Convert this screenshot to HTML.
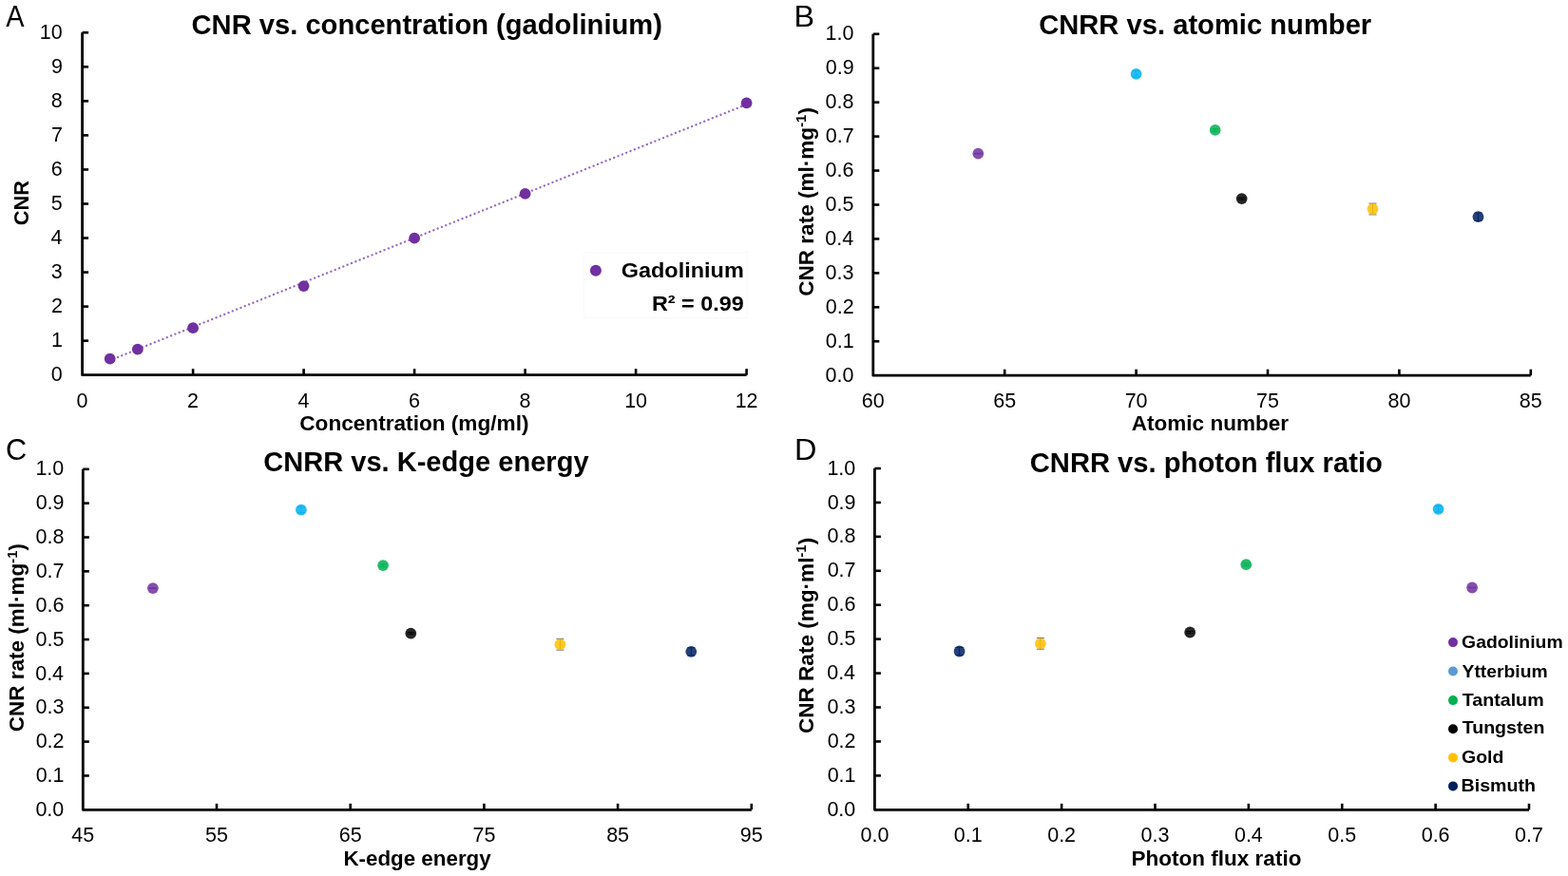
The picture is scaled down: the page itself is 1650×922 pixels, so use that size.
<!DOCTYPE html>
<html><head><meta charset="utf-8"><title>CNR figure</title>
<style>
html,body{margin:0;padding:0;background:#fff;}
body{width:1650px;height:922px;overflow:hidden;}
svg{display:block;}
text{font-family:"Liberation Sans",Arial,sans-serif;fill:#000;}
</style></head><body>
<svg width="1650" height="922" viewBox="0 0 1650 922">
<rect width="1650" height="922" fill="#fff"/>
<path d="M86.60,34.30 L86.60,394.70 L785.60,394.70" fill="none" stroke="#000" stroke-width="2.8" stroke-linejoin="round"/>
<text x="86.60" y="429.00" text-anchor="middle" style="font-size:21.5px;">0</text>
<line x1="203.10" y1="394.70" x2="203.10" y2="388.20" stroke="#000" stroke-width="2.6"/>
<text x="203.10" y="429.00" text-anchor="middle" style="font-size:21.5px;">2</text>
<line x1="319.60" y1="394.70" x2="319.60" y2="388.20" stroke="#000" stroke-width="2.6"/>
<text x="319.60" y="429.00" text-anchor="middle" style="font-size:21.5px;">4</text>
<line x1="436.10" y1="394.70" x2="436.10" y2="388.20" stroke="#000" stroke-width="2.6"/>
<text x="436.10" y="429.00" text-anchor="middle" style="font-size:21.5px;">6</text>
<line x1="552.60" y1="394.70" x2="552.60" y2="388.20" stroke="#000" stroke-width="2.6"/>
<text x="552.60" y="429.00" text-anchor="middle" style="font-size:21.5px;">8</text>
<line x1="669.10" y1="394.70" x2="669.10" y2="388.20" stroke="#000" stroke-width="2.6"/>
<text x="669.10" y="429.00" text-anchor="middle" style="font-size:21.5px;">10</text>
<line x1="785.60" y1="394.70" x2="785.60" y2="388.20" stroke="#000" stroke-width="2.6"/>
<text x="785.60" y="429.00" text-anchor="middle" style="font-size:21.5px;">12</text>
<text x="65.73" y="401.30" text-anchor="end" style="font-size:21.5px;">0</text>
<line x1="86.60" y1="358.66" x2="93.10" y2="358.66" stroke="#000" stroke-width="2.6"/>
<text x="65.94" y="365.26" text-anchor="end" style="font-size:21.5px;">1</text>
<line x1="86.60" y1="322.62" x2="93.10" y2="322.62" stroke="#000" stroke-width="2.6"/>
<text x="65.94" y="329.22" text-anchor="end" style="font-size:21.5px;">2</text>
<line x1="86.60" y1="286.58" x2="93.10" y2="286.58" stroke="#000" stroke-width="2.6"/>
<text x="65.84" y="293.18" text-anchor="end" style="font-size:21.5px;">3</text>
<line x1="86.60" y1="250.54" x2="93.10" y2="250.54" stroke="#000" stroke-width="2.6"/>
<text x="65.51" y="257.14" text-anchor="end" style="font-size:21.5px;">4</text>
<line x1="86.60" y1="214.50" x2="93.10" y2="214.50" stroke="#000" stroke-width="2.6"/>
<text x="65.84" y="221.10" text-anchor="end" style="font-size:21.5px;">5</text>
<line x1="86.60" y1="178.46" x2="93.10" y2="178.46" stroke="#000" stroke-width="2.6"/>
<text x="65.84" y="185.06" text-anchor="end" style="font-size:21.5px;">6</text>
<line x1="86.60" y1="142.42" x2="93.10" y2="142.42" stroke="#000" stroke-width="2.6"/>
<text x="65.94" y="149.02" text-anchor="end" style="font-size:21.5px;">7</text>
<line x1="86.60" y1="106.38" x2="93.10" y2="106.38" stroke="#000" stroke-width="2.6"/>
<text x="65.84" y="112.98" text-anchor="end" style="font-size:21.5px;">8</text>
<line x1="86.60" y1="70.34" x2="93.10" y2="70.34" stroke="#000" stroke-width="2.6"/>
<text x="65.94" y="76.94" text-anchor="end" style="font-size:21.5px;">9</text>
<line x1="86.60" y1="34.30" x2="93.10" y2="34.30" stroke="#000" stroke-width="2.6"/>
<text x="65.75" y="40.90" text-anchor="end" style="font-size:21.5px;">10</text>
<path d="M918.80,35.80 L918.80,395.20 L1610.80,395.20" fill="none" stroke="#000" stroke-width="2.8" stroke-linejoin="round"/>
<text x="918.80" y="429.00" text-anchor="middle" style="font-size:21.5px;">60</text>
<line x1="1057.20" y1="395.20" x2="1057.20" y2="388.70" stroke="#000" stroke-width="2.6"/>
<text x="1057.20" y="429.00" text-anchor="middle" style="font-size:21.5px;">65</text>
<line x1="1195.60" y1="395.20" x2="1195.60" y2="388.70" stroke="#000" stroke-width="2.6"/>
<text x="1195.60" y="429.00" text-anchor="middle" style="font-size:21.5px;">70</text>
<line x1="1334.00" y1="395.20" x2="1334.00" y2="388.70" stroke="#000" stroke-width="2.6"/>
<text x="1334.00" y="429.00" text-anchor="middle" style="font-size:21.5px;">75</text>
<line x1="1472.40" y1="395.20" x2="1472.40" y2="388.70" stroke="#000" stroke-width="2.6"/>
<text x="1472.40" y="429.00" text-anchor="middle" style="font-size:21.5px;">80</text>
<line x1="1610.80" y1="395.20" x2="1610.80" y2="388.70" stroke="#000" stroke-width="2.6"/>
<text x="1610.80" y="429.00" text-anchor="middle" style="font-size:21.5px;">85</text>
<text x="898.41" y="401.80" text-anchor="end" style="font-size:21.5px;">0.0</text>
<line x1="918.80" y1="359.26" x2="925.30" y2="359.26" stroke="#000" stroke-width="2.6"/>
<text x="898.62" y="365.86" text-anchor="end" style="font-size:21.5px;">0.1</text>
<line x1="918.80" y1="323.32" x2="925.30" y2="323.32" stroke="#000" stroke-width="2.6"/>
<text x="898.62" y="329.92" text-anchor="end" style="font-size:21.5px;">0.2</text>
<line x1="918.80" y1="287.38" x2="925.30" y2="287.38" stroke="#000" stroke-width="2.6"/>
<text x="898.51" y="293.98" text-anchor="end" style="font-size:21.5px;">0.3</text>
<line x1="918.80" y1="251.44" x2="925.30" y2="251.44" stroke="#000" stroke-width="2.6"/>
<text x="898.19" y="258.04" text-anchor="end" style="font-size:21.5px;">0.4</text>
<line x1="918.80" y1="215.50" x2="925.30" y2="215.50" stroke="#000" stroke-width="2.6"/>
<text x="898.51" y="222.10" text-anchor="end" style="font-size:21.5px;">0.5</text>
<line x1="918.80" y1="179.56" x2="925.30" y2="179.56" stroke="#000" stroke-width="2.6"/>
<text x="898.51" y="186.16" text-anchor="end" style="font-size:21.5px;">0.6</text>
<line x1="918.80" y1="143.62" x2="925.30" y2="143.62" stroke="#000" stroke-width="2.6"/>
<text x="898.62" y="150.22" text-anchor="end" style="font-size:21.5px;">0.7</text>
<line x1="918.80" y1="107.68" x2="925.30" y2="107.68" stroke="#000" stroke-width="2.6"/>
<text x="898.51" y="114.28" text-anchor="end" style="font-size:21.5px;">0.8</text>
<line x1="918.80" y1="71.74" x2="925.30" y2="71.74" stroke="#000" stroke-width="2.6"/>
<text x="898.62" y="78.34" text-anchor="end" style="font-size:21.5px;">0.9</text>
<line x1="918.80" y1="35.80" x2="925.30" y2="35.80" stroke="#000" stroke-width="2.6"/>
<text x="898.41" y="42.40" text-anchor="end" style="font-size:21.5px;">1.0</text>
<path d="M87.30,493.80 L87.30,852.30 L790.80,852.30" fill="none" stroke="#000" stroke-width="2.8" stroke-linejoin="round"/>
<text x="87.30" y="886.00" text-anchor="middle" style="font-size:21.5px;">45</text>
<line x1="228.00" y1="852.30" x2="228.00" y2="845.80" stroke="#000" stroke-width="2.6"/>
<text x="228.00" y="886.00" text-anchor="middle" style="font-size:21.5px;">55</text>
<line x1="368.70" y1="852.30" x2="368.70" y2="845.80" stroke="#000" stroke-width="2.6"/>
<text x="368.70" y="886.00" text-anchor="middle" style="font-size:21.5px;">65</text>
<line x1="509.40" y1="852.30" x2="509.40" y2="845.80" stroke="#000" stroke-width="2.6"/>
<text x="509.40" y="886.00" text-anchor="middle" style="font-size:21.5px;">75</text>
<line x1="650.10" y1="852.30" x2="650.10" y2="845.80" stroke="#000" stroke-width="2.6"/>
<text x="650.10" y="886.00" text-anchor="middle" style="font-size:21.5px;">85</text>
<line x1="790.80" y1="852.30" x2="790.80" y2="845.80" stroke="#000" stroke-width="2.6"/>
<text x="790.80" y="886.00" text-anchor="middle" style="font-size:21.5px;">95</text>
<text x="67.31" y="858.90" text-anchor="end" style="font-size:21.5px;">0.0</text>
<line x1="87.30" y1="816.45" x2="93.80" y2="816.45" stroke="#000" stroke-width="2.6"/>
<text x="67.52" y="823.05" text-anchor="end" style="font-size:21.5px;">0.1</text>
<line x1="87.30" y1="780.60" x2="93.80" y2="780.60" stroke="#000" stroke-width="2.6"/>
<text x="67.52" y="787.20" text-anchor="end" style="font-size:21.5px;">0.2</text>
<line x1="87.30" y1="744.75" x2="93.80" y2="744.75" stroke="#000" stroke-width="2.6"/>
<text x="67.41" y="751.35" text-anchor="end" style="font-size:21.5px;">0.3</text>
<line x1="87.30" y1="708.90" x2="93.80" y2="708.90" stroke="#000" stroke-width="2.6"/>
<text x="67.09" y="715.50" text-anchor="end" style="font-size:21.5px;">0.4</text>
<line x1="87.30" y1="673.05" x2="93.80" y2="673.05" stroke="#000" stroke-width="2.6"/>
<text x="67.41" y="679.65" text-anchor="end" style="font-size:21.5px;">0.5</text>
<line x1="87.30" y1="637.20" x2="93.80" y2="637.20" stroke="#000" stroke-width="2.6"/>
<text x="67.41" y="643.80" text-anchor="end" style="font-size:21.5px;">0.6</text>
<line x1="87.30" y1="601.35" x2="93.80" y2="601.35" stroke="#000" stroke-width="2.6"/>
<text x="67.52" y="607.95" text-anchor="end" style="font-size:21.5px;">0.7</text>
<line x1="87.30" y1="565.50" x2="93.80" y2="565.50" stroke="#000" stroke-width="2.6"/>
<text x="67.41" y="572.10" text-anchor="end" style="font-size:21.5px;">0.8</text>
<line x1="87.30" y1="529.65" x2="93.80" y2="529.65" stroke="#000" stroke-width="2.6"/>
<text x="67.52" y="536.25" text-anchor="end" style="font-size:21.5px;">0.9</text>
<line x1="87.30" y1="493.80" x2="93.80" y2="493.80" stroke="#000" stroke-width="2.6"/>
<text x="67.31" y="500.40" text-anchor="end" style="font-size:21.5px;">1.0</text>
<path d="M920.40,493.00 L920.40,852.30 L1608.99,852.30" fill="none" stroke="#000" stroke-width="2.8" stroke-linejoin="round"/>
<text x="920.40" y="886.20" text-anchor="middle" style="font-size:21.5px;">0.0</text>
<line x1="1018.77" y1="852.30" x2="1018.77" y2="845.80" stroke="#000" stroke-width="2.6"/>
<text x="1018.77" y="886.20" text-anchor="middle" style="font-size:21.5px;">0.1</text>
<line x1="1117.14" y1="852.30" x2="1117.14" y2="845.80" stroke="#000" stroke-width="2.6"/>
<text x="1117.14" y="886.20" text-anchor="middle" style="font-size:21.5px;">0.2</text>
<line x1="1215.51" y1="852.30" x2="1215.51" y2="845.80" stroke="#000" stroke-width="2.6"/>
<text x="1215.51" y="886.20" text-anchor="middle" style="font-size:21.5px;">0.3</text>
<line x1="1313.88" y1="852.30" x2="1313.88" y2="845.80" stroke="#000" stroke-width="2.6"/>
<text x="1313.88" y="886.20" text-anchor="middle" style="font-size:21.5px;">0.4</text>
<line x1="1412.25" y1="852.30" x2="1412.25" y2="845.80" stroke="#000" stroke-width="2.6"/>
<text x="1412.25" y="886.20" text-anchor="middle" style="font-size:21.5px;">0.5</text>
<line x1="1510.62" y1="852.30" x2="1510.62" y2="845.80" stroke="#000" stroke-width="2.6"/>
<text x="1510.62" y="886.20" text-anchor="middle" style="font-size:21.5px;">0.6</text>
<line x1="1608.99" y1="852.30" x2="1608.99" y2="845.80" stroke="#000" stroke-width="2.6"/>
<text x="1608.99" y="886.20" text-anchor="middle" style="font-size:21.5px;">0.7</text>
<text x="900.31" y="858.90" text-anchor="end" style="font-size:21.5px;">0.0</text>
<line x1="920.40" y1="816.37" x2="926.90" y2="816.37" stroke="#000" stroke-width="2.6"/>
<text x="900.52" y="822.97" text-anchor="end" style="font-size:21.5px;">0.1</text>
<line x1="920.40" y1="780.44" x2="926.90" y2="780.44" stroke="#000" stroke-width="2.6"/>
<text x="900.52" y="787.04" text-anchor="end" style="font-size:21.5px;">0.2</text>
<line x1="920.40" y1="744.51" x2="926.90" y2="744.51" stroke="#000" stroke-width="2.6"/>
<text x="900.41" y="751.11" text-anchor="end" style="font-size:21.5px;">0.3</text>
<line x1="920.40" y1="708.58" x2="926.90" y2="708.58" stroke="#000" stroke-width="2.6"/>
<text x="900.09" y="715.18" text-anchor="end" style="font-size:21.5px;">0.4</text>
<line x1="920.40" y1="672.65" x2="926.90" y2="672.65" stroke="#000" stroke-width="2.6"/>
<text x="900.41" y="679.25" text-anchor="end" style="font-size:21.5px;">0.5</text>
<line x1="920.40" y1="636.72" x2="926.90" y2="636.72" stroke="#000" stroke-width="2.6"/>
<text x="900.41" y="643.32" text-anchor="end" style="font-size:21.5px;">0.6</text>
<line x1="920.40" y1="600.79" x2="926.90" y2="600.79" stroke="#000" stroke-width="2.6"/>
<text x="900.52" y="607.39" text-anchor="end" style="font-size:21.5px;">0.7</text>
<line x1="920.40" y1="564.86" x2="926.90" y2="564.86" stroke="#000" stroke-width="2.6"/>
<text x="900.41" y="571.46" text-anchor="end" style="font-size:21.5px;">0.8</text>
<line x1="920.40" y1="528.93" x2="926.90" y2="528.93" stroke="#000" stroke-width="2.6"/>
<text x="900.52" y="535.53" text-anchor="end" style="font-size:21.5px;">0.9</text>
<line x1="920.40" y1="493.00" x2="926.90" y2="493.00" stroke="#000" stroke-width="2.6"/>
<text x="900.31" y="499.60" text-anchor="end" style="font-size:21.5px;">1.0</text>
<text x="6.35" y="28.00" style="font-size:31.5px;" textLength="19.26" lengthAdjust="spacingAndGlyphs">A</text>
<text x="835.46" y="28.20" style="font-size:31.5px;" textLength="21.57" lengthAdjust="spacingAndGlyphs">B</text>
<text x="6.11" y="483.80" style="font-size:31.5px;" textLength="22.18" lengthAdjust="spacingAndGlyphs">C</text>
<text x="836.06" y="484.00" style="font-size:31.5px;" textLength="23.43" lengthAdjust="spacingAndGlyphs">D</text>
<text x="201.58" y="36.40" style="font-size:29px;font-weight:bold;" textLength="495.32" lengthAdjust="spacingAndGlyphs">CNR vs. concentration (gadolinium)</text>
<text x="1093.18" y="36.40" style="font-size:29px;font-weight:bold;" textLength="350.03" lengthAdjust="spacingAndGlyphs">CNRR vs. atomic number</text>
<text x="277.19" y="496.40" style="font-size:29px;font-weight:bold;" textLength="342.39" lengthAdjust="spacingAndGlyphs">CNRR vs. K-edge energy</text>
<text x="1083.78" y="497.00" style="font-size:29px;font-weight:bold;" textLength="371.06" lengthAdjust="spacingAndGlyphs">CNRR vs. photon flux ratio</text>
<text x="315.25" y="452.80" style="font-size:22px;font-weight:bold;" textLength="241.26" lengthAdjust="spacingAndGlyphs">Concentration (mg/ml)</text>
<text x="1190.79" y="453.00" style="font-size:22px;font-weight:bold;" textLength="165.28" lengthAdjust="spacingAndGlyphs">Atomic number</text>
<text x="361.40" y="911.20" style="font-size:22px;font-weight:bold;" textLength="155.29" lengthAdjust="spacingAndGlyphs">K-edge energy</text>
<text x="1190.49" y="911.40" style="font-size:22px;font-weight:bold;" textLength="178.93" lengthAdjust="spacingAndGlyphs">Photon flux ratio</text>
<text transform="rotate(-90)" x="-237.22" y="29.60" style="font-size:22px;font-weight:bold" textLength="47.13" lengthAdjust="spacingAndGlyphs">CNR</text>
<text transform="rotate(-90)" x="-311.82" y="855.60" style="font-size:22px;font-weight:bold" textLength="198.70" lengthAdjust="spacingAndGlyphs">CNR rate (ml·mg<tspan style="font-size:14.5px" dy="-7.5">-1</tspan><tspan dy="7.5">)</tspan></text>
<text transform="rotate(-90)" x="-770.22" y="25.00" style="font-size:22px;font-weight:bold" textLength="198.09" lengthAdjust="spacingAndGlyphs">CNR rate (ml·mg<tspan style="font-size:14.5px" dy="-7.5">-1</tspan><tspan dy="7.5">)</tspan></text>
<text transform="rotate(-90)" x="-772.12" y="855.60" style="font-size:22px;font-weight:bold" textLength="206.27" lengthAdjust="spacingAndGlyphs">CNR Rate (mg·ml<tspan style="font-size:14.5px" dy="-7.5">-1</tspan><tspan dy="7.5">)</tspan></text>
<line x1="115.70" y1="379.27" x2="785.60" y2="109.90" stroke="#9568c4" stroke-width="2.3" stroke-dasharray="0.1 4.552" stroke-dashoffset="0.46" stroke-linecap="round"/>
<circle cx="115.72" cy="377.70" r="5.9" fill="#7030A0"/>
<circle cx="144.85" cy="367.70" r="5.9" fill="#7030A0"/>
<circle cx="203.10" cy="345.20" r="5.9" fill="#7030A0"/>
<circle cx="319.60" cy="301.10" r="5.9" fill="#7030A0"/>
<circle cx="436.10" cy="250.70" r="5.9" fill="#7030A0"/>
<circle cx="552.60" cy="203.90" r="5.9" fill="#7030A0"/>
<circle cx="785.60" cy="108.40" r="5.9" fill="#7030A0"/>
<rect x="614.5" y="265.5" width="172" height="69" fill="none" stroke="#f9f9f9" stroke-width="1"/>
<circle cx="626.90" cy="284.80" r="6.0" fill="#7030A0"/>
<text x="653.71" y="292.30" style="font-size:22px;font-weight:bold;" textLength="129.05" lengthAdjust="spacingAndGlyphs">Gadolinium</text>
<text x="685.93" y="327.20" style="font-size:22px;font-weight:bold;" textLength="96.87" lengthAdjust="spacingAndGlyphs">R² = 0.99</text>
<line x1="1025.30" y1="161.30" x2="1033.30" y2="161.30" stroke="#7030A0" stroke-width="0.9"/>
<line x1="1025.30" y1="162.10" x2="1033.30" y2="162.10" stroke="#7030A0" stroke-width="0.9"/>
<circle cx="1029.30" cy="161.70" r="5.9" fill="#7030A0" fill-opacity="0.85"/>
<line x1="1195.60" y1="74.70" x2="1195.60" y2="81.10" stroke="#00B0F0" stroke-width="0.9"/>
<line x1="1191.60" y1="74.70" x2="1199.60" y2="74.70" stroke="#00B0F0" stroke-width="0.9"/>
<line x1="1191.60" y1="81.10" x2="1199.60" y2="81.10" stroke="#00B0F0" stroke-width="0.9"/>
<circle cx="1195.60" cy="77.90" r="5.9" fill="#00B0F0" fill-opacity="0.85"/>
<line x1="1278.70" y1="135.60" x2="1278.70" y2="138.20" stroke="#00B050" stroke-width="0.9"/>
<line x1="1274.70" y1="135.60" x2="1282.70" y2="135.60" stroke="#00B050" stroke-width="0.9"/>
<line x1="1274.70" y1="138.20" x2="1282.70" y2="138.20" stroke="#00B050" stroke-width="0.9"/>
<circle cx="1278.70" cy="136.90" r="5.9" fill="#00B050" fill-opacity="0.85"/>
<line x1="1306.70" y1="208.10" x2="1306.70" y2="210.10" stroke="#000000" stroke-width="0.9"/>
<line x1="1302.70" y1="208.10" x2="1310.70" y2="208.10" stroke="#000000" stroke-width="0.9"/>
<line x1="1302.70" y1="210.10" x2="1310.70" y2="210.10" stroke="#000000" stroke-width="0.9"/>
<circle cx="1306.70" cy="209.10" r="5.9" fill="#000000" fill-opacity="0.85"/>
<line x1="1444.50" y1="214.10" x2="1444.50" y2="225.90" stroke="#595959" stroke-width="0.9"/>
<line x1="1440.50" y1="214.10" x2="1448.50" y2="214.10" stroke="#595959" stroke-width="0.9"/>
<line x1="1440.50" y1="225.90" x2="1448.50" y2="225.90" stroke="#595959" stroke-width="0.9"/>
<circle cx="1444.50" cy="220.00" r="5.9" fill="#FFC000" fill-opacity="0.85"/>
<line x1="1555.50" y1="224.10" x2="1555.50" y2="232.30" stroke="#002060" stroke-width="0.9"/>
<line x1="1551.50" y1="224.10" x2="1559.50" y2="224.10" stroke="#002060" stroke-width="0.9"/>
<line x1="1551.50" y1="232.30" x2="1559.50" y2="232.30" stroke="#002060" stroke-width="0.9"/>
<circle cx="1555.50" cy="228.20" r="5.9" fill="#002060" fill-opacity="0.85"/>
<line x1="156.90" y1="618.70" x2="164.90" y2="618.70" stroke="#7030A0" stroke-width="0.9"/>
<line x1="156.90" y1="619.50" x2="164.90" y2="619.50" stroke="#7030A0" stroke-width="0.9"/>
<circle cx="160.90" cy="619.10" r="5.9" fill="#7030A0" fill-opacity="0.85"/>
<line x1="316.90" y1="533.50" x2="316.90" y2="539.90" stroke="#00B0F0" stroke-width="0.9"/>
<line x1="312.90" y1="533.50" x2="320.90" y2="533.50" stroke="#00B0F0" stroke-width="0.9"/>
<line x1="312.90" y1="539.90" x2="320.90" y2="539.90" stroke="#00B0F0" stroke-width="0.9"/>
<circle cx="316.90" cy="536.70" r="5.9" fill="#00B0F0" fill-opacity="0.85"/>
<line x1="403.10" y1="593.80" x2="403.10" y2="596.40" stroke="#00B050" stroke-width="0.9"/>
<line x1="399.10" y1="593.80" x2="407.10" y2="593.80" stroke="#00B050" stroke-width="0.9"/>
<line x1="399.10" y1="596.40" x2="407.10" y2="596.40" stroke="#00B050" stroke-width="0.9"/>
<circle cx="403.10" cy="595.10" r="5.9" fill="#00B050" fill-opacity="0.85"/>
<line x1="432.30" y1="665.60" x2="432.30" y2="667.60" stroke="#000000" stroke-width="0.9"/>
<line x1="428.30" y1="665.60" x2="436.30" y2="665.60" stroke="#000000" stroke-width="0.9"/>
<line x1="428.30" y1="667.60" x2="436.30" y2="667.60" stroke="#000000" stroke-width="0.9"/>
<circle cx="432.30" cy="666.60" r="5.9" fill="#000000" fill-opacity="0.85"/>
<line x1="589.40" y1="672.30" x2="589.40" y2="684.10" stroke="#595959" stroke-width="0.9"/>
<line x1="585.40" y1="672.30" x2="593.40" y2="672.30" stroke="#595959" stroke-width="0.9"/>
<line x1="585.40" y1="684.10" x2="593.40" y2="684.10" stroke="#595959" stroke-width="0.9"/>
<circle cx="589.40" cy="678.20" r="5.9" fill="#FFC000" fill-opacity="0.85"/>
<line x1="727.30" y1="681.70" x2="727.30" y2="689.90" stroke="#002060" stroke-width="0.9"/>
<line x1="723.30" y1="681.70" x2="731.30" y2="681.70" stroke="#002060" stroke-width="0.9"/>
<line x1="723.30" y1="689.90" x2="731.30" y2="689.90" stroke="#002060" stroke-width="0.9"/>
<circle cx="727.30" cy="685.80" r="5.9" fill="#002060" fill-opacity="0.85"/>
<line x1="1545.10" y1="618.10" x2="1553.10" y2="618.10" stroke="#7030A0" stroke-width="0.9"/>
<line x1="1545.10" y1="618.90" x2="1553.10" y2="618.90" stroke="#7030A0" stroke-width="0.9"/>
<circle cx="1549.10" cy="618.50" r="5.9" fill="#7030A0" fill-opacity="0.85"/>
<line x1="1513.60" y1="532.60" x2="1513.60" y2="539.00" stroke="#00B0F0" stroke-width="0.9"/>
<line x1="1509.60" y1="532.60" x2="1517.60" y2="532.60" stroke="#00B0F0" stroke-width="0.9"/>
<line x1="1509.60" y1="539.00" x2="1517.60" y2="539.00" stroke="#00B0F0" stroke-width="0.9"/>
<circle cx="1513.60" cy="535.80" r="5.9" fill="#00B0F0" fill-opacity="0.85"/>
<line x1="1311.30" y1="592.90" x2="1311.30" y2="595.50" stroke="#00B050" stroke-width="0.9"/>
<line x1="1307.30" y1="592.90" x2="1315.30" y2="592.90" stroke="#00B050" stroke-width="0.9"/>
<line x1="1307.30" y1="595.50" x2="1315.30" y2="595.50" stroke="#00B050" stroke-width="0.9"/>
<circle cx="1311.30" cy="594.20" r="5.9" fill="#00B050" fill-opacity="0.85"/>
<line x1="1252.20" y1="664.50" x2="1252.20" y2="666.50" stroke="#000000" stroke-width="0.9"/>
<line x1="1248.20" y1="664.50" x2="1256.20" y2="664.50" stroke="#000000" stroke-width="0.9"/>
<line x1="1248.20" y1="666.50" x2="1256.20" y2="666.50" stroke="#000000" stroke-width="0.9"/>
<circle cx="1252.20" cy="665.50" r="5.9" fill="#000000" fill-opacity="0.85"/>
<line x1="1094.90" y1="671.40" x2="1094.90" y2="683.20" stroke="#595959" stroke-width="0.9"/>
<line x1="1090.90" y1="671.40" x2="1098.90" y2="671.40" stroke="#595959" stroke-width="0.9"/>
<line x1="1090.90" y1="683.20" x2="1098.90" y2="683.20" stroke="#595959" stroke-width="0.9"/>
<circle cx="1094.90" cy="677.30" r="5.9" fill="#FFC000" fill-opacity="0.85"/>
<line x1="1009.60" y1="681.40" x2="1009.60" y2="689.60" stroke="#002060" stroke-width="0.9"/>
<line x1="1005.60" y1="681.40" x2="1013.60" y2="681.40" stroke="#002060" stroke-width="0.9"/>
<line x1="1005.60" y1="689.60" x2="1013.60" y2="689.60" stroke="#002060" stroke-width="0.9"/>
<circle cx="1009.60" cy="685.50" r="5.9" fill="#002060" fill-opacity="0.85"/>
<circle cx="1529.00" cy="676.10" r="5.0" fill="#7030A0"/>
<text x="1538.08" y="682.30" style="font-size:19px;font-weight:bold;" textLength="106.54" lengthAdjust="spacingAndGlyphs">Gadolinium</text>
<circle cx="1529.00" cy="706.50" r="5.0" fill="#5B9BD5"/>
<text x="1538.56" y="712.50" style="font-size:19px;font-weight:bold;" textLength="90.09" lengthAdjust="spacingAndGlyphs">Ytterbium</text>
<circle cx="1529.00" cy="737.10" r="5.0" fill="#00B050"/>
<text x="1538.65" y="742.60" style="font-size:19px;font-weight:bold;" textLength="85.99" lengthAdjust="spacingAndGlyphs">Tantalum</text>
<circle cx="1529.00" cy="767.20" r="5.0" fill="#000000"/>
<text x="1538.65" y="772.30" style="font-size:19px;font-weight:bold;" textLength="86.78" lengthAdjust="spacingAndGlyphs">Tungsten</text>
<circle cx="1529.00" cy="797.40" r="5.0" fill="#FFC000"/>
<text x="1538.07" y="802.50" style="font-size:19px;font-weight:bold;" textLength="44.39" lengthAdjust="spacingAndGlyphs">Gold</text>
<circle cx="1529.00" cy="827.40" r="5.0" fill="#002060"/>
<text x="1537.58" y="832.60" style="font-size:19px;font-weight:bold;" textLength="78.35" lengthAdjust="spacingAndGlyphs">Bismuth</text>
</svg>
</body></html>
